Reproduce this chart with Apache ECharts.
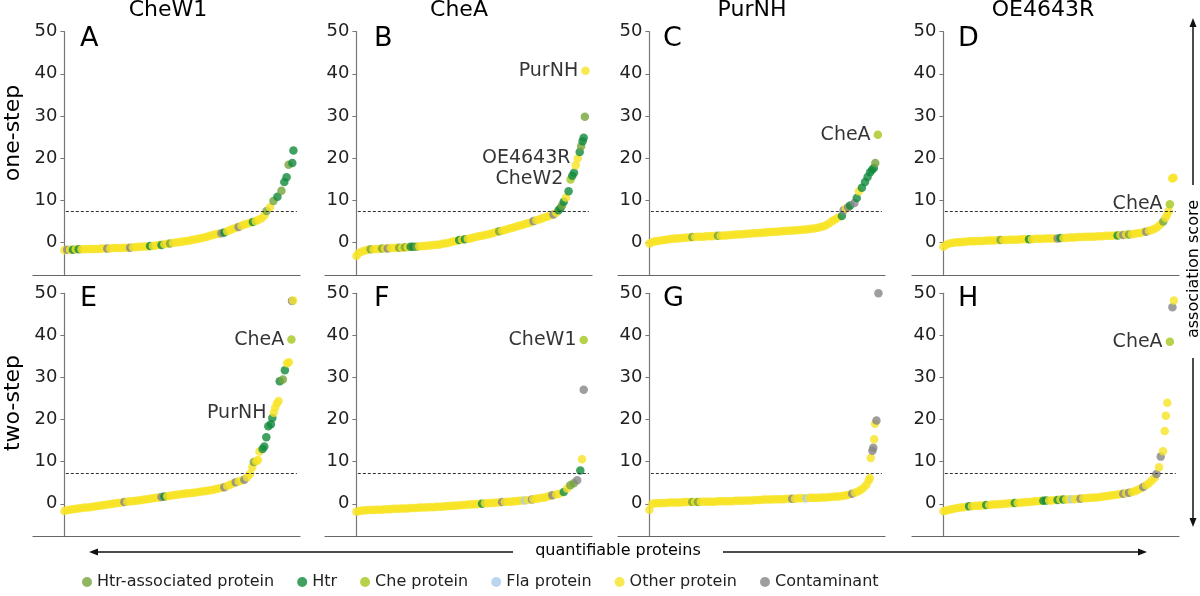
<!DOCTYPE html>
<html>
<head>
<meta charset="utf-8">
<title>association score</title>
<script src="https://cdn.jsdelivr.net/npm/echarts@6.0.0/dist/echarts.min.js"></script>
<style>
  html, body { margin: 0; padding: 0; background: #fff; }
  #chart-wrapper { width: 1200px; height: 596px; }
</style>
</head>
<body>
<div id="chart-wrapper"></div>
<script>
// column baits and row labels
const baits = ["CheW1", "CheA", "PurNH", "OE4643R"];
const steps = ["one-step", "two-step"];
const letters = ["A", "B", "C", "D", "E", "F", "G", "H"];
const yTicks = [0, 10, 20, 30, 40, 50];
const threshold = 7.25;

// [rank, score, kind, name]  kind: A Htr-associated, H Htr, E Che, F Fla, C contaminant, none = other
const panelA = [[0,-1.9],[1,-1.8,"C"],[2,-1.8],[3,-1.8,"H"],[4,-1.7],[5,-1.7,"H"],[6,-1.7],[7,-1.7],[8,-1.6],[9,-1.6],[10,-1.6],[11,-1.6],[12,-1.6],[13,-1.5],[14,-1.5],[15,-1.5,"C"],[16,-1.5],[17,-1.4],[18,-1.4],[19,-1.4],[20,-1.4],[21,-1.3],[22,-1.3],[23,-1.3,"C"],[24,-1.2],[25,-1.2],[26,-1.1],[27,-1.1],[28,-1.0],[29,-1.0],[30,-0.9,"H"],[31,-0.9],[32,-0.8],[33,-0.7],[34,-0.7,"H"],[35,-0.5],[36,-0.4],[37,-0.3,"A"],[38,-0.2],[39,-0.1],[40,0.0],[41,0.1],[42,0.2],[43,0.3],[44,0.4],[45,0.6],[46,0.7],[47,0.8],[48,1.0],[49,1.1],[50,1.3],[51,1.5],[52,1.7],[53,1.9],[54,2.0],[55,2.1,"C"],[56,2.3,"H"],[57,2.6],[58,2.9],[59,3.1],[60,3.4],[61,3.6,"C"],[62,3.9],[63,4.2],[64,4.4],[65,4.6],[66,4.8,"H"],[67,5.0],[68,5.3],[69,5.6],[70,6.3],[70.8,7.4,"A"],[72,8.3],[73.2,9.8,"A"],[74.6,10.8,"H"],[76,12.2,"A"],[77,14.3,"H"],[77.8,15.4,"H"],[78.5,18.4,"A"],[79.8,18.8,"H"],[80.2,21.8,"H"]];

const panelB = [[0,-3.3],[0.8,-2.6],[2,-2.2],[3,-2.0],[4,-1.8],[5,-1.7,"A"],[6,-1.7],[7,-1.6],[8,-1.6],[9,-1.5,"A"],[10,-1.5],[11,-1.5,"C"],[12,-1.4],[13,-1.4],[14,-1.3],[15,-1.3,"A"],[16,-1.3],[17,-1.2,"A"],[18,-1.2],[19,-1.1,"H"],[20,-1.1,"H"],[21,-1.1,"A"],[22,-1.0],[23,-0.9],[24,-0.9],[25,-0.8],[26,-0.8],[27,-0.7],[28,-0.6],[29,-0.6],[30,-0.4],[31,-0.3],[32,-0.2],[33,0.0],[34,0.2],[35,0.3],[36,0.5,"H"],[37,0.6],[38,0.7,"H"],[39,0.8],[40,0.9],[41,1.1],[42,1.3],[43,1.4],[44,1.5],[45,1.7],[46,1.8],[47,2.0],[48,2.2],[49,2.4],[50,2.6,"A"],[51,2.7],[52,2.9],[53,3.1],[54,3.3],[55,3.5],[56,3.7],[57,3.9],[58,4.1],[59,4.3],[60,4.5],[61,4.7],[62,5.0,"C"],[63,5.2],[64,5.4],[65,5.6],[66,5.9],[67,6.1],[68,6.4],[69,6.6,"C"],[70,7.0],[70.8,7.6,"H"],[71.5,8.1,"H"],[72,8.7,"A"],[72.6,9.6,"H"],[73.4,10.6],[74.3,12.1,"H"],[75,14.9,"E","CheW2"],[75.6,15.8,"H"],[76.2,16.5,"H"],[76.8,18.3],[77.5,19.9,"O","OE4643R"],[78.2,21.4,"H"],[78.7,22.8,"A"],[79.2,24.0,"H"],[79.6,24.8,"H"],[80,29.8,"A"],[80.2,40.7,"O","PurNH"]];

const panelC = [[0,-0.3],[1,0.0],[2,0.2],[3,0.3],[4,0.4],[5,0.5],[6,0.6],[7,0.7],[8,0.8],[9,0.9],[10,0.9],[11,1.0],[12,1.0],[13,1.1],[14,1.1],[15,1.2,"A"],[16,1.2],[17,1.3],[18,1.3],[19,1.3],[20,1.4],[21,1.4],[22,1.4],[23,1.5],[24,1.5,"A"],[25,1.5],[26,1.6],[27,1.6],[28,1.7],[29,1.7],[30,1.8],[31,1.8],[32,1.9],[33,1.9],[34,2.0],[35,2.0],[36,2.1],[37,2.1],[38,2.2],[39,2.2],[40,2.3],[41,2.3],[42,2.4],[43,2.4],[44,2.5],[45,2.5],[46,2.6],[47,2.6],[48,2.7],[49,2.7],[50,2.8],[51,2.8],[52,2.9],[53,2.9],[54,3.0],[55,3.0],[56,3.1],[57,3.2],[58,3.3],[59,3.4],[60,3.6],[61,3.8],[62,4.1],[63,4.5],[64,5.0],[65,5.4],[66,5.8],[67.4,6.2,"H"],[68,7.6,"C"],[68.8,8.0],[69.6,8.3,"C"],[70.3,8.7,"H"],[71.8,9.3,"C"],[72.6,10.5,"H"],[73.4,12.1],[74.4,12.9,"H"],[75.5,14.3,"H"],[76.4,15.5,"H"],[77.3,16.6,"H"],[78,17.2,"H"],[78.6,17.6,"H"],[79.1,18.8,"A"],[80,25.5,"E","CheA"]];

const panelD = [[0,-1.1],[1,-0.6],[2,-0.3],[3,-0.2],[4,-0.1],[5,0.0],[6,0.0],[7,0.1],[8,0.1],[9,0.2],[10,0.2],[11,0.2],[12,0.3],[13,0.3],[14,0.3],[15,0.4],[16,0.4],[17,0.4],[18,0.4],[19,0.5],[20,0.5,"A"],[21,0.5],[22,0.5],[23,0.6],[24,0.6],[25,0.6],[26,0.6],[27,0.7],[28,0.7],[29,0.7],[30,0.7,"H"],[31,0.7],[32,0.8],[33,0.8],[34,0.8],[35,0.8],[36,0.9],[37,0.9],[38,0.9],[39,0.9],[40,0.9,"C"],[41,1.0,"H"],[42,1.0],[43,1.0],[44,1.1],[45,1.1],[46,1.1],[47,1.2],[48,1.2],[49,1.2],[50,1.3],[51,1.3],[52,1.3],[53,1.3],[54,1.4],[55,1.4],[56,1.4],[57,1.5],[58,1.5],[59,1.5],[60,1.6],[61,1.6,"H"],[62,1.7],[63,1.7,"C"],[64,1.8],[65,1.8,"A"],[66,1.9],[67,2.0],[68,2.1],[69,2.2],[70,2.4],[71,2.5,"C"],[72,2.7],[73,2.9],[74,3.2],[75,3.6],[76,4.2],[77,4.9,"A"],[77.8,5.8],[78.4,6.6],[78.9,7.4],[79.3,9.0,"E","CheA"],[80.1,15.1],[80.6,15.3]];

const panelE = [[0,-1.7],[1,-1.5],[2,-1.4],[3,-1.3],[4,-1.2],[5,-1.1],[6,-1.0],[7,-0.9],[8,-0.9],[9,-0.8],[10,-0.7],[11,-0.6],[12,-0.5],[13,-0.4],[14,-0.3],[15,-0.2],[16,-0.1],[17,0.0],[18,0.1],[19,0.2],[20,0.3],[21,0.4,"C"],[22,0.5],[23,0.6],[24,0.6],[25,0.7],[26,0.8],[27,0.9],[28,1.0],[29,1.1],[30,1.2],[31,1.3],[32,1.4],[33,1.5],[34,1.6,"C"],[35,1.7,"H"],[36,1.8],[37,1.9],[38,2.0],[39,2.1],[40,2.2],[41,2.3],[42,2.4],[43,2.5],[44,2.5],[45,2.6],[46,2.7],[47,2.8],[48,2.9],[49,3.0],[50,3.1],[51,3.2],[52,3.3],[53,3.5],[54,3.6],[55,3.8],[56,3.9,"C"],[57,4.2],[58,4.5],[59,4.8],[60,5.1,"C"],[61,5.3],[62,5.5],[63,5.7,"C"],[64,6.3],[65,7.1],[65.8,8.7],[66.3,9.9,"A"],[67.2,10.1],[67.8,10.4],[68.3,12.4],[69.4,13.0,"H"],[70,13.6,"H"],[70.7,15.8,"H"],[71.4,18.4,"H"],[72.3,18.9,"H"],[72.8,20.4,"H"],[73.3,21.6,"O","PurNH"],[73.8,22.8],[74.4,23.8],[75,24.4],[75.4,29.1,"H"],[76.5,29.5,"A"],[77.2,31.7,"H"],[78,33.4],[78.6,33.6],[79.5,39.0,"E","CheA"],[79.7,48.2,"C"],[80.1,48.3]];

const panelF = [[0,-1.9],[1,-1.7],[2,-1.6],[3,-1.6],[4,-1.5],[5,-1.5],[6,-1.5],[7,-1.4],[8,-1.4],[9,-1.4],[10,-1.3],[11,-1.3],[12,-1.3],[13,-1.2],[14,-1.2],[15,-1.2],[16,-1.1],[17,-1.1],[18,-1.1],[19,-1.0],[20,-1.0],[21,-1.0],[22,-0.9],[23,-0.9],[24,-0.9],[25,-0.8],[26,-0.8],[27,-0.8],[28,-0.7],[29,-0.7],[30,-0.7],[31,-0.6],[32,-0.6],[33,-0.5],[34,-0.5],[35,-0.4],[36,-0.4],[37,-0.3],[38,-0.3],[39,-0.2],[40,-0.2],[41,-0.1],[42,-0.1],[43,0.0],[44,0.0,"H"],[45,0.1],[46,0.1],[47,0.2],[48,0.2],[49,0.3],[50,0.3],[51,0.4,"C"],[52,0.4],[53,0.5],[54,0.5],[55,0.6],[56,0.6],[57,0.7],[58,0.8],[59,0.8,"F"],[60,0.9],[61.5,1.0,"C"],[62,1.1],[63,1.2],[64,1.3],[65,1.4],[66,1.5],[67,1.7],[68,1.9],[68.6,2.0,"C"],[70,2.2],[71,2.4],[72.6,2.8,"H"],[73.8,3.6],[74.9,4.4,"A"],[76.1,4.9,"A"],[77.3,5.6,"C"],[78.4,7.9,"H"],[79,10.6],[79.6,27.1,"C"],[79.6,38.9,"E","CheW1"]];

const panelG = [[0,-1.4],[1,0.0],[2,0.1],[3,0.1],[4,0.2],[5,0.2],[6,0.2],[7,0.3],[8,0.3],[9,0.3],[10,0.3],[11,0.3],[12,0.4],[13,0.4],[14,0.4],[15,0.4,"A"],[16,0.4],[17,0.4,"A"],[18,0.5],[19,0.5],[20,0.5],[21,0.5],[22,0.5],[23,0.5],[24,0.6],[25,0.6],[26,0.6],[27,0.6],[28,0.6],[29,0.6],[30,0.7],[31,0.7],[32,0.7],[33,0.7],[34,0.8],[35,0.8],[36,0.8],[37,0.9],[38,0.9],[39,0.9],[40,1.0],[41,1.0],[42,1.0],[43,1.0],[44,1.1],[45,1.1],[46,1.1],[47,1.1],[48,1.2],[49,1.2],[50,1.2,"C"],[51,1.2],[52,1.3],[53,1.3],[54,1.3],[55,1.3,"F"],[56,1.4],[57,1.4],[58,1.4],[59,1.4],[60,1.5],[61,1.5],[62,1.5],[63,1.6],[64,1.6],[65,1.7],[66,1.7],[67,1.8],[68,1.9],[69,2.0],[70,2.2],[71,2.4,"C"],[72,2.6],[73,2.9],[74,3.3],[75,3.8],[76,4.5],[76.8,5.5],[77.2,6.1],[77.5,10.9],[78.1,12.6,"C"],[78.4,13.3,"C"],[78.7,15.3],[79,19.0],[79.5,19.8,"C"],[80.2,50.0,"C"]];

const panelH = [[0,-1.8],[1,-1.6],[2,-1.4],[3,-1.3],[4,-1.1],[5,-1.0],[6,-0.9],[7,-0.8],[8,-0.7],[9,-0.6,"H"],[10,-0.6],[11,-0.5],[12,-0.5],[13,-0.4],[14,-0.4],[15,-0.3,"H"],[16,-0.3],[17,-0.2],[18,-0.2],[19,-0.1],[20,-0.1],[21,0.0],[22,0.0],[23,0.1],[24,0.1],[25,0.2,"H"],[26,0.2],[27,0.3],[28,0.3],[29,0.4],[30,0.4],[31,0.5],[32,0.6],[33,0.6],[34,0.7],[35,0.7,"H"],[36,0.8,"H"],[37,0.8],[38,0.8],[39,0.9],[40,0.9,"H"],[41,1.0],[42,1.0,"H"],[43,1.0],[44,1.1],[45,1.1,"F"],[46,1.1],[47,1.2],[48,1.2,"C"],[49,1.3],[50,1.3],[51,1.4],[52,1.4],[53,1.5],[54,1.5],[55,1.6],[56,1.7],[57,1.8],[58,1.9],[59,2.0],[60,2.1],[61,2.2],[62,2.3],[63,2.4,"C"],[64,2.5],[65,2.6,"C"],[66,2.8],[67,3.0],[68,3.3],[69,3.6],[70,4.0,"C"],[71,4.4],[72,4.9],[73,5.5],[74,6.2],[74.6,7.1,"C"],[75.5,8.7],[76.1,11.2,"C"],[76.9,12.5],[77.5,17.3],[77.9,20.9],[78.4,24.0],[79.3,38.5,"E","CheA"],[80.2,46.7,"C"],[80.7,48.3]];

const panels = [panelA, panelB, panelC, panelD, panelE, panelF, panelG, panelH];

const kinds = {
  A: { name: "Htr-associated protein", color: "#76a43a" },
  H: { name: "Htr", color: "#10893c" },
  E: { name: "Che protein", color: "#a6c51d" },
  F: { name: "Fla protein", color: "#a9cbeb" },
  O: { name: "Other protein", color: "#f8e424" },
  C: { name: "Contaminant", color: "#868686" },
};
const legendOrder = ["A", "H", "E", "F", "O", "C"];

// layout
const FONT = '"DejaVu Sans", sans-serif';
const gridLeft = [33, 325, 618, 912];
const gridTop = [31.7, 293.3];
const gridW = 267;
const gridH = 243.3;
const xMin = -11;
const xMax = 82.5;
const yAxisShift = (-xMin / (xMax - xMin)) * gridW; // y axis sits at rank 0
const titleX = [168, 459, 752, 1043];
const letterX = [80, 374, 663, 958];
const letterY = [38.7, 299];
const rowLabelY = [133, 403];

const buildPoints = (rows) =>
  rows.map((p) => {
    const kind = kinds[p[2] || "O"];
    const item = { value: [p[0], p[1]], itemStyle: { color: kind.color } };
    if (p[3]) {
      item.label = {
        show: true,
        formatter: p[3],
        position: "left",
        distance: 3,
        fontFamily: FONT,
        fontSize: 19,
        color: "#000",
      };
    }
    return item;
  });

const txt = (text, x, y, size, extra) =>
  Object.assign(
    {
      type: "text",
      x: x,
      y: y,
      silent: true,
      style: {
        text: text,
        font: size + "px " + FONT,
        fill: "#000",
        align: "center",
        verticalAlign: "middle",
        textAlign: "center",
        textVerticalAlign: "middle",
      },
    },
    extra || {}
  );

const line = (x1, y1, x2, y2) => ({
  type: "line",
  silent: true,
  shape: { x1, y1, x2, y2 },
  style: { stroke: "#111", lineWidth: 1.5 },
});

const head = (pts) => ({
  type: "polygon",
  silent: true,
  shape: { points: pts },
  style: { fill: "#111" },
});

const init_chart = () => {
  const chart = echarts.init(document.getElementById("chart-wrapper"));
  const grid = [];
  const xAxis = [];
  const yAxis = [];
  const series = [];
  const graphic = [];

  panels.forEach((rows, k) => {
    const row = k < 4 ? 0 : 1;
    const col = k % 4;
    grid.push({
      left: gridLeft[col],
      top: gridTop[row],
      width: gridW,
      height: gridH,
      containLabel: false,
      outerBoundsMode: "none",
    });
    xAxis.push({
      type: "value",
      gridIndex: k,
      min: xMin,
      max: xMax,
      axisLine: { show: true, onZero: false, lineStyle: { color: "#666", width: 1.2 } },
      axisTick: { show: false },
      axisLabel: { show: false },
      splitLine: { show: false },
    });
    yAxis.push({
      type: "value",
      gridIndex: k,
      min: -7.8,
      max: 50,
      position: "left",
      offset: -yAxisShift,
      axisLine: { show: true, onZero: false, lineStyle: { color: "#777", width: 1.2 } },
      axisTick: { show: true, length: 4, customValues: yTicks, lineStyle: { color: "#777" } },
      axisLabel: {
        customValues: yTicks,
        margin: 7,
        fontFamily: FONT,
        fontSize: 18,
        color: "#222",
      },
      splitLine: { show: false },
    });
    series.push({
      type: "scatter",
      xAxisIndex: k,
      yAxisIndex: k,
      symbolSize: 8.5,
      data: buildPoints(rows),
      markLine: {
        silent: true,
        symbol: "none",
        label: { show: false },
        lineStyle: { type: [3, 2], color: "#333", width: 1 },
        data: [[{ coord: [0.5, threshold] }, { coord: [81.4, threshold] }]],
      },
    });
    graphic.push(
      txt(letters[k], letterX[col], letterY[row], 27, {
        style: {
          text: letters[k],
          font: "27px " + FONT,
          fill: "#000",
          align: "left",
          verticalAlign: "middle",
          textAlign: "left",
          textVerticalAlign: "middle",
        },
      })
    );
  });

  // empty series only feed the legend
  legendOrder.forEach((c) => {
    series.push({
      type: "scatter",
      name: kinds[c].name,
      data: [],
      itemStyle: { color: kinds[c].color },
    });
  });

  baits.forEach((b, i) => graphic.push(txt(b, titleX[i], 10.5, 22)));
  steps.forEach((s, i) => graphic.push(txt(s, 13, rowLabelY[i], 22, { rotation: Math.PI / 2 })));
  graphic.push(txt("association score", 1194, 269, 16, { rotation: Math.PI / 2 }));
  graphic.push(txt("quantifiable proteins", 618, 551, 16));
  graphic.push(line(1193, 26, 1193, 185), head([[1193, 18], [1189.5, 27], [1196.5, 27]]));
  graphic.push(line(1193, 358, 1193, 519), head([[1193, 527], [1189.5, 518], [1196.5, 518]]));
  graphic.push(line(97, 552, 513, 552), head([[89, 552], [98, 548.5], [98, 555.5]]));
  graphic.push(line(723, 552, 1139, 552), head([[1147, 552], [1138, 548.5], [1138, 555.5]]));

  const option = {
    animation: false,
    backgroundColor: "#fff",
    grid: grid,
    xAxis: xAxis,
    yAxis: yAxis,
    series: series,
    graphic: graphic,
    legend: {
      data: legendOrder.map((c) => kinds[c].name),
      left: 77,
      top: 569,
      itemGap: 23,
      itemWidth: 10,
      itemHeight: 10,
      icon: "circle",
      selectedMode: false,
      textStyle: { fontFamily: FONT, fontSize: 16, color: "#222" },
    },
  };
  chart.setOption(option);
};

window.onload = init_chart;
</script>
</body>
</html>
